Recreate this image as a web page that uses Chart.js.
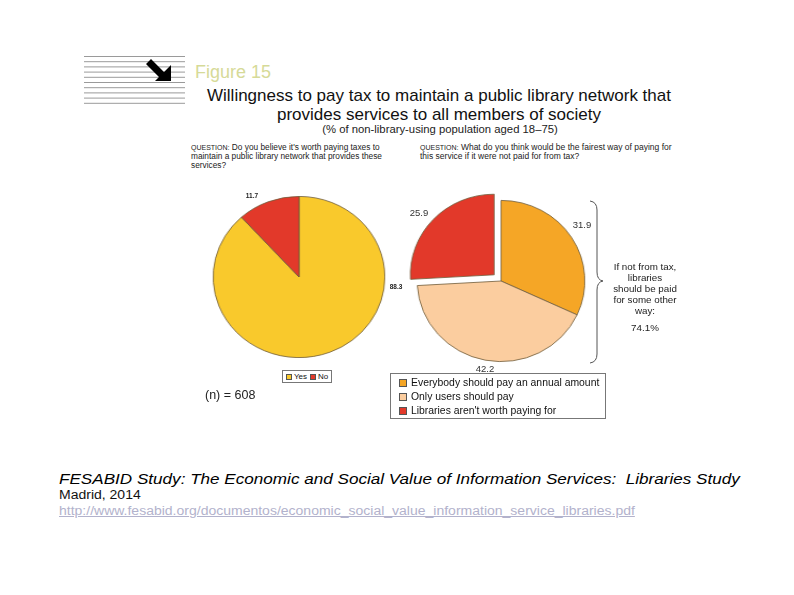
<!DOCTYPE html>
<html>
<head>
<meta charset="utf-8">
<script src="https://cdn.jsdelivr.net/npm/chart.js@4/dist/chart.umd.min.js"></script>
<style>
  html, body { margin: 0; padding: 0; background: #fff; }
  body { width: 794px; height: 595px; position: relative; overflow: hidden; font-family: "Liberation Sans", Arial, sans-serif; color: #111; }
  .abs { position: absolute; white-space: nowrap; }
  .title { left: 0; width: 878px; text-align: center; font-size: 17px; line-height: 19px; }
  .q { font-size: 8.3px; line-height: 9px; color: #222; }
  .q .cap { font-size: 7px; }
  .lbl { font-size: 9.5px; color: #333; transform: translate(-50%, -50%); }
  .lbl.tiny { font-size: 6.5px; font-weight: bold; color: #222; }
  .legend { border: 1px solid #777; background: #fff; }
  .legend .item { display: flex; align-items: center; }
  .legend .sw { display: inline-block; border: 1px solid #555; box-sizing: border-box; }
  .side { left: 612px; width: 66px; text-align: center; font-size: 9.8px; line-height: 11px; color: #222; }
  .foot { left: 59px; transform: scaleX(1.12); transform-origin: left top; }
</style>
</head>
<body>

<svg class="abs" style="left:0;top:0" width="794" height="595">
  <g id="rules" stroke="#9a9a9a" stroke-width="1"></g>
  <path d="M146 64 L151 59 L164 72 L171 65 L171 81 L155 81 L159 77 Z" fill="#000"/>
  <path d="M590 201 Q597 202 597 210 L597 272 Q597 280 603 281 Q597 282 597 290 L597 354 Q597 362 590 363" fill="none" stroke="#555" stroke-width="1"/>
</svg>

<div class="abs" style="left:195px;top:62px;font-size:18px;color:#d6da98;">Figure 15</div>
<div class="abs title" style="top:86px;">Willingness to pay tax to maintain a public library network that</div>
<div class="abs title" style="top:105px;">provides services to all members of society</div>
<div class="abs" style="left:0;width:880px;text-align:center;top:123px;font-size:11.3px;color:#222;">(% of non-library-using population aged 18&ndash;75)</div>

<div class="abs q" style="left:191px;top:143px;"><span class="cap">QUESTION:</span> Do you believe it's worth paying taxes to<br>maintain a public library network that provides these<br>services?</div>
<div class="abs q" style="left:420px;top:143px;font-size:8.5px;"><span class="cap">QUESTION:</span> What do you think would be the fairest way of paying for<br>this service if it were not paid for from tax?</div>

<div class="abs" style="left:218px;top:196px;width:162px;height:162px;transform:scaleX(1.065);">
  <canvas id="taxPie"></canvas>
</div>
<div class="abs" style="left:402px;top:182px;width:198px;height:198px;transform:scaleX(1.04);">
  <canvas id="payPie"></canvas>
</div>

<div id="taxLabels"></div>
<div id="payLabels"></div>

<div class="abs side" style="top:261px;" id="sideNote"></div>

<div class="abs legend" id="taxLegend" style="left:282px;top:370px;padding:1px 3px;font-size:8px;"></div>
<div class="abs" id="nCount" style="left:205px;top:388px;font-size:12.5px;color:#222;"></div>
<div class="abs legend" id="payLegend" style="left:390px;top:373px;width:216px;height:46px;padding:2px 0 2px 8px;font-size:10.4px;line-height:14px;box-sizing:border-box;"></div>

<div class="abs foot" style="top:470px;font-size:15px;font-style:italic;color:#000;transform:scaleX(1.14);">FESABID Study: The Economic and Social Value of Information Services:&nbsp; Libraries Study</div>
<div class="abs foot" style="top:488px;font-size:12.5px;color:#111;">Madrid, 2014</div>
<div class="abs foot" style="top:504px;font-size:12.5px;color:#b2b2cc;text-decoration:underline;">http://www.fesabid.org/documentos/economic_social_value_information_service_libraries.pdf</div>

<script>
// Left pie: is it worth paying taxes for a public library network?
const taxCategories = ['Yes', 'No'];
const taxValues = [88.3, 11.7];
const taxColors = ['#f9c92c', '#e2392a'];

// Right pie: fairest way of paying if not from tax
const payCategories = ['Everybody should pay an annual amount', 'Only users should pay', "Libraries aren't worth paying for"];
const payValues = [31.9, 42.2, 25.9];
const payColors = ['#f5a626', '#fbcd9f', '#e2392a'];
const payOffsets = [0, 0, 36]; // v4 shifts the arc by offset/4 px

const otherWayShare = 74.1;
const sampleSize = 608;

// horizontal rules next to the figure number
const rules = document.getElementById('rules');
for (let i = 0; i < 10; i++) {
  const y = 56.5 + i * 5.2;
  const l = document.createElementNS('http://www.w3.org/2000/svg', 'line');
  l.setAttribute('x1', 84); l.setAttribute('x2', 185);
  l.setAttribute('y1', y); l.setAttribute('y2', y);
  rules.appendChild(l);
}

Chart.defaults.font.family = '"Liberation Sans", Arial, sans-serif';
Chart.defaults.animation = false;

const pieOptions = {
  responsive: true,
  maintainAspectRatio: false,
  events: [],
  layout: { padding: 0 },
  plugins: { legend: { display: false }, tooltip: { enabled: false } }
};

new Chart(document.getElementById('taxPie').getContext('2d'), {
  type: 'pie',
  data: {
    labels: taxCategories,
    datasets: [{
      data: taxValues,
      backgroundColor: taxColors,
      borderColor: '#6e5c3a',
      borderWidth: 0.8
    }]
  },
  options: pieOptions
});

new Chart(document.getElementById('payPie').getContext('2d'), {
  type: 'pie',
  data: {
    labels: payCategories,
    datasets: [{
      data: payValues,
      backgroundColor: payColors,
      borderColor: '#6e5c3a',
      borderWidth: 0.8,
      offset: payOffsets
    }]
  },
  options: pieOptions
});

// value labels (placed beside the slices as in the original figure)
function addLabel(parent, text, x, y, cls) {
  const d = document.createElement('div');
  d.className = 'abs lbl' + (cls ? ' ' + cls : '');
  d.style.left = x + 'px';
  d.style.top = y + 'px';
  d.textContent = text;
  document.getElementById(parent).appendChild(d);
}
addLabel('taxLabels', taxValues[1].toFixed(1), 252, 195, 'tiny');
addLabel('taxLabels', taxValues[0].toFixed(1), 396, 286, 'tiny');
addLabel('payLabels', payValues[2].toFixed(1), 419, 212);
addLabel('payLabels', payValues[0].toFixed(1), 582, 224);
addLabel('payLabels', payValues[1].toFixed(1), 485, 368);

document.getElementById('sideNote').innerHTML =
  'If not from tax,<br>libraries<br>should be paid<br>for some other<br>way:<div style="margin-top:6px">' +
  otherWayShare.toFixed(1) + '%</div>';

document.getElementById('nCount').textContent = '(n) = ' + sampleSize;

// legends
const taxLegend = document.getElementById('taxLegend');
taxLegend.style.display = 'flex';
taxCategories.forEach((c, i) => {
  const s = document.createElement('span');
  s.className = 'item';
  s.style.marginRight = i === 0 ? '3px' : '0';
  s.innerHTML = '<span class="sw" style="width:6px;height:6px;margin-right:2px;background:' + taxColors[i] + '"></span>' + c;
  taxLegend.appendChild(s);
});

const payLegend = document.getElementById('payLegend');
payCategories.forEach((c, i) => {
  const s = document.createElement('div');
  s.className = 'item';
  s.innerHTML = '<span class="sw" style="width:8px;height:8px;margin-right:4px;background:' + payColors[i] + '"></span>' + c;
  payLegend.appendChild(s);
});
</script>
</body>
</html>
